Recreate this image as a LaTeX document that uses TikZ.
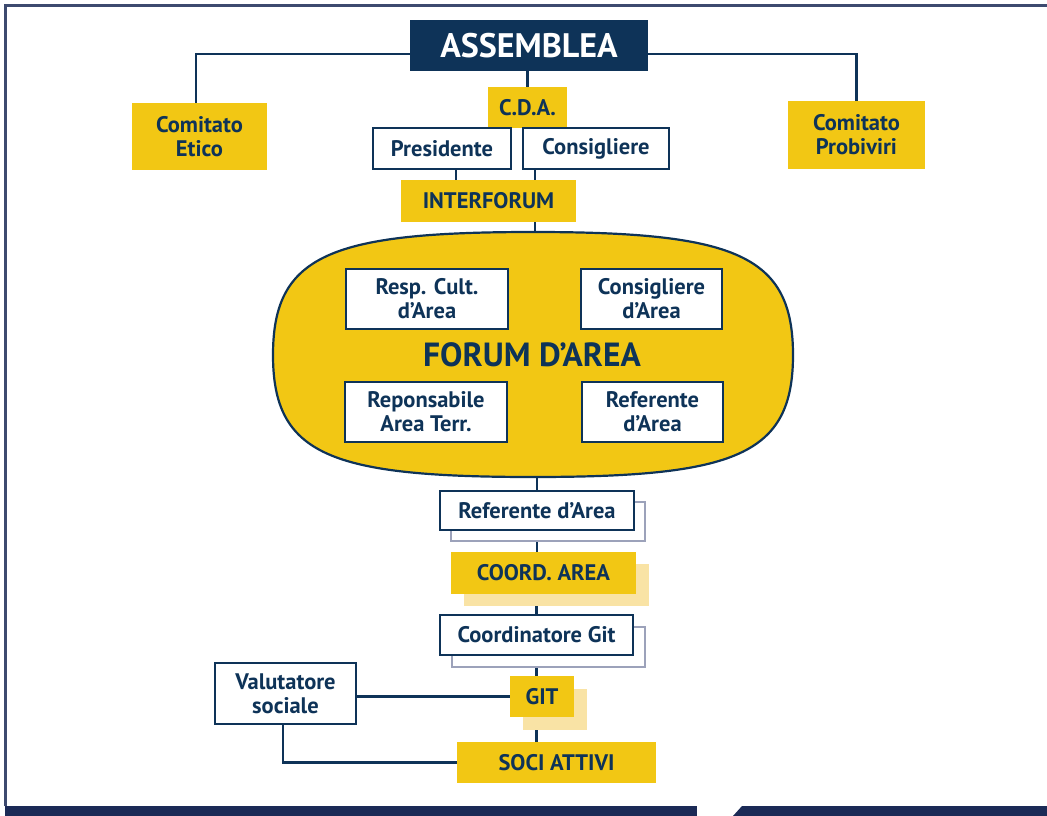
\documentclass[tikz,border=0pt]{standalone}
\usepackage{fontspec}
\setmainfont{PT Sans}
\usetikzlibrary{math}

\definecolor{navy}{RGB}{14,51,88}
\definecolor{gold}{RGB}{242,199,20}
\definecolor{paleGold}{RGB}{249,227,165}
\definecolor{greyBlue}{RGB}{156,162,186}
\definecolor{band}{RGB}{27,42,86}

\tikzset{
  unit/.style={rectangle, inner sep=0pt, align=center, text=navy,
    font=\bfseries\fontsize{22.5}{24}\selectfont},
  goldbox/.style={unit, fill=gold},
  whitebox/.style={unit, fill=white, draw=navy, line width=2.4pt},
  lineghost/.style={preaction={draw=greyBlue, fill=white, line width=2.4pt,
    transform canvas={shift={(#1)}}}},
  goldghost/.style={preaction={fill=paleGold, draw=none,
    transform canvas={shift={(#1)}}}},
  link/.style={draw=navy, line width=2.4pt},
}

\begin{document}
\begin{tikzpicture}[x=1pt, y=-1pt]
      \tikzmath{\pw = 1047; \ph = 816; \spine = 537;}
      \useasboundingbox (0,0) rectangle (\pw,\ph);
      % frame and bottom band
      \draw[color=band!85!white, line width=2.5pt] (5.5,806) -- (5.5,5.5) -- (\pw,5.5);
      \fill[band] (4.5,806) rectangle (697,\ph);
      \fill[band] (733,\ph) -- (742,806) -- (\pw,806) -- (\pw,\ph) -- cycle;

      % top level
      \node[unit, fill=navy, text=white, minimum width=238pt, minimum height=51pt,
        font=\bfseries\fontsize{34}{36}\selectfont] (assemblea) at (529,45.5) {ASSEMBLEA};
      \node[goldbox, minimum width=135pt, minimum height=67pt] (etico) at (199.5,136.5) {Comitato\\Etico};
      \node[goldbox, minimum width=137pt, minimum height=68pt] (probiviri) at (856.5,135) {Comitato\\Probiviri};
      \node[goldbox, minimum width=79pt, minimum height=41pt] (cda) at (527.5,107.5) {C.D.A.};
      \node[whitebox, minimum width=138pt, minimum height=41pt] (presidente) at (442,148.5) {Presidente};
      \node[whitebox, minimum width=146pt, minimum height=41pt] (consigliere) at (596,148.5) {Consigliere};
      \node[goldbox, minimum width=175pt, minimum height=42pt] (interforum) at (488.5,201) {INTERFORUM};

      % forum d'area
      \path[draw=navy, fill=gold, line width=2.2pt] (273,355)
        .. controls (273,255) and (330,232) .. (533,232)
        .. controls (736,232) and (793,255) .. (793,355)
        .. controls (793,455) and (736,477) .. (533,477)
        .. controls (330,477) and (273,455) .. (273,355) -- cycle;
      \coordinate (forumtop) at (535,232);
      \coordinate (forumbot) at (\spine,477);
      \node[unit, font=\bfseries\fontsize{33.5}{36}\selectfont] (forum) at (532,355) {FORUM D’AREA};
      \node[whitebox, minimum width=162pt, minimum height=60pt] (respcult) at (427,299) {Resp. Cult.\\d’Area};
      \node[whitebox, minimum width=141pt, minimum height=60pt] (consarea) at (651.5,299) {Consigliere\\d’Area};
      \node[whitebox, minimum width=162pt, minimum height=60pt] (respterr) at (426,412) {Reponsabile\\Area Terr.};
      \node[whitebox, minimum width=141pt, minimum height=60pt] (refarea) at (652.5,412) {Referente\\d’Area};

      % lower chain
      \node[whitebox, lineghost={11pt,-11pt}, minimum width=194pt, minimum height=39pt] (referente) at (\spine,510.5) {Referente d’Area};
      \node[goldbox, goldghost={13pt,-12pt}, minimum width=185pt, minimum height=42pt] (coord) at (543.5,573) {COORD. AREA};
      \node[whitebox, lineghost={12pt,-12pt}, minimum width=193pt, minimum height=40pt] (coordgit) at (536.5,635) {Coordinatore Git};
      \node[goldbox, goldghost={13pt,-13pt}, minimum width=64pt, minimum height=41pt] (git) at (542,696.5) {GIT};
      \node[whitebox, minimum width=141pt, minimum height=61pt] (valutatore) at (285.5,693.5) {Valutatore\\sociale};
      \node[goldbox, minimum width=199pt, minimum height=41pt] (soci) at (556.5,762.5) {SOCI ATTIVI};

      % connectors
      \draw[link] ([xshift=-3.5pt]etico.north) |- ([yshift=-8.5pt]assemblea.west);
      \draw[link] (probiviri.north) |- ([yshift=-8.5pt]assemblea.east);
      \draw[link] (assemblea.south -| cda.north) -- (cda.north);
      \draw[link] ([xshift=14pt]presidente.south) -- ([xshift=14pt]presidente.south |- interforum.north);
      \draw[link] (consigliere.south -| forumtop) -- (interforum.north -| forumtop);
      \draw[link] (interforum.south -| forumtop) -- (forumtop);
      \draw[link] (forumbot) -- (referente.north);
      \draw[link] ([yshift=-11pt]referente.south) -- (coord.north -| referente.south);
      \draw[link] ([yshift=-12pt]coord.south -| coordgit.north) -- (coordgit.north);
      \draw[link] ([yshift=-12pt]coordgit.south) -- (git.north -| coordgit.south);
      \draw[link] ([yshift=-13pt]git.south -| coordgit.south) -- (soci.north -| coordgit.south);
      \draw[link] (valutatore.east |- git.west) -- (git.west);
      \draw[link] ([xshift=-2.5pt]valutatore.south) |- (soci.west);
\end{tikzpicture}
\end{document}
